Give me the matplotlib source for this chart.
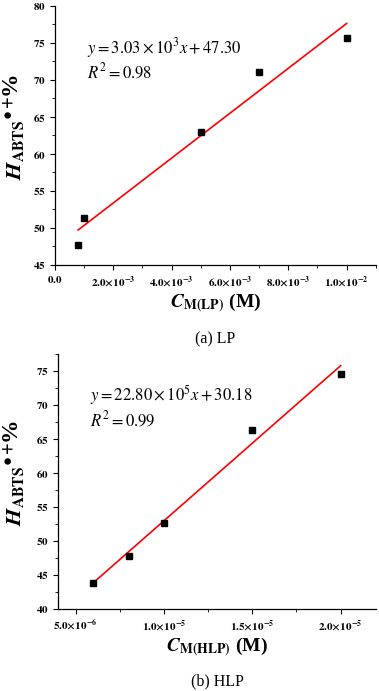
import numpy as np
import matplotlib
matplotlib.use('Agg')
import matplotlib.pyplot as plt
import matplotlib.transforms as mtransforms
from matplotlib.ticker import MultipleLocator, FuncFormatter

plt.rcParams['font.family'] = ['Liberation Serif', 'DejaVu Serif']
plt.rcParams['mathtext.fontset'] = 'stix'

# (a) LP
lp_conc = [8e-4, 1e-3, 5e-3, 7e-3, 1e-2]
lp_h = [47.7, 51.3, 62.9, 71.0, 75.7]
lp_slope = 3.03e3
lp_icpt = 47.30
lp_r2 = 0.98

# (b) HLP
hlp_conc = [6e-6, 8e-6, 1e-5, 1.5e-5, 2e-5]
hlp_h = [43.8, 47.8, 52.7, 66.3, 74.6]
hlp_slope = 22.80e5
hlp_icpt = 30.18
hlp_r2 = 0.99

ylabel = r'$\mathbfit{H}_{\mathbf{ABTS}}{}^{\mathbf{\bullet+}}$'

W, H = 379, 691


def sci_fmt(v, pos):
  if abs(v) < 1e-12:
    return r'$\mathbf{0.0}$'
  e = int(np.floor(np.log10(abs(v))))
  m = v / 10**e
  return r'$\mathbf{%.1f{\times}10^{%d}}$' % (m, e)


def panel(ax, x, y, slope, icpt, r2, eq, xlabel, caption, xlim, ylim, xmaj, xmin, ymaj):
  x = np.array(x)
  xx = np.array([x.min(), x.max()])
  ax.plot(xx, slope * xx + icpt, color='#ff0000', lw=1.2, zorder=2)
  ax.plot(x, y, 's', color='black', ms=4.5, zorder=3)
  ax.set_xlim(*xlim)
  ax.set_ylim(*ylim)
  for s in ['top', 'right']:
    ax.spines[s].set_visible(False)
  for s in ['left', 'bottom']:
    ax.spines[s].set_linewidth(0.9)
  ax.xaxis.set_major_locator(MultipleLocator(xmaj))
  ax.xaxis.set_minor_locator(MultipleLocator(xmin))
  ax.yaxis.set_major_locator(MultipleLocator(ymaj))
  ax.yaxis.set_minor_locator(MultipleLocator(ymaj / 2))
  ax.xaxis.set_major_formatter(FuncFormatter(sci_fmt))
  ax.yaxis.set_major_formatter(FuncFormatter(lambda v, p: r'$\mathbf{%d}$' % v))
  ax.tick_params(which='major', direction='out', length=3.5, width=0.8, labelsize=8, pad=3)
  ax.tick_params(which='minor', direction='out', length=2, width=0.6)

  # y label: math part, then a large bold percent sign placed just after it
  pos = ax.get_position()
  ymid = (pos.y0 + pos.y1) / 2
  t1 = fig.text(14.5 / W, ymid - 45 / H, ylabel, fontsize=16, rotation=90,
                ha='center', va='bottom')
  bb = t1.get_window_extent(fig.canvas.get_renderer())
  fig.text(10.5, bb.y1 + 1, '%', fontsize=17, fontweight='bold', rotation=90,
           ha='center', va='bottom', transform=mtransforms.IdentityTransform())

  ax.set_xlabel(xlabel, fontsize=14, fontweight='bold', labelpad=2)
  ax.text(0.10, 0.838, eq, transform=ax.transAxes, fontsize=12, va='center')
  ax.text(0.10, 0.742, r'$R^2 = %.2f$' % r2, transform=ax.transAxes, fontsize=12, va='center')
  ax.text(0.5, -0.285, caption, transform=ax.transAxes, fontsize=11.5, ha='center', va='center')


fig = plt.figure(figsize=(3.79, 6.91), dpi=100)
ax1 = fig.add_axes([0.1446, 0.6165, 0.847, 0.3753])
ax2 = fig.add_axes([0.153, 0.1187, 0.839, 0.369])

panel(ax1, lp_conc, lp_h, lp_slope, lp_icpt, lp_r2,
      r'$y = 3.03\times10^3x + 47.30$',
      r'$\mathbfit{C}_{\mathbf{M(LP)}}$ (M)', '(a) LP',
      (0, 0.011), (45, 80), 2e-3, 1e-3, 5)
panel(ax2, hlp_conc, hlp_h, hlp_slope, hlp_icpt, hlp_r2,
      r'$y = 22.80\times10^5x + 30.18$',
      r'$\mathbfit{C}_{\mathbf{M(HLP)}}$ (M)', '(b) HLP',
      (4e-6, 2.2e-5), (40, 77.5), 5e-6, 2.5e-6, 5)

fig.savefig('out.png', dpi=100)
